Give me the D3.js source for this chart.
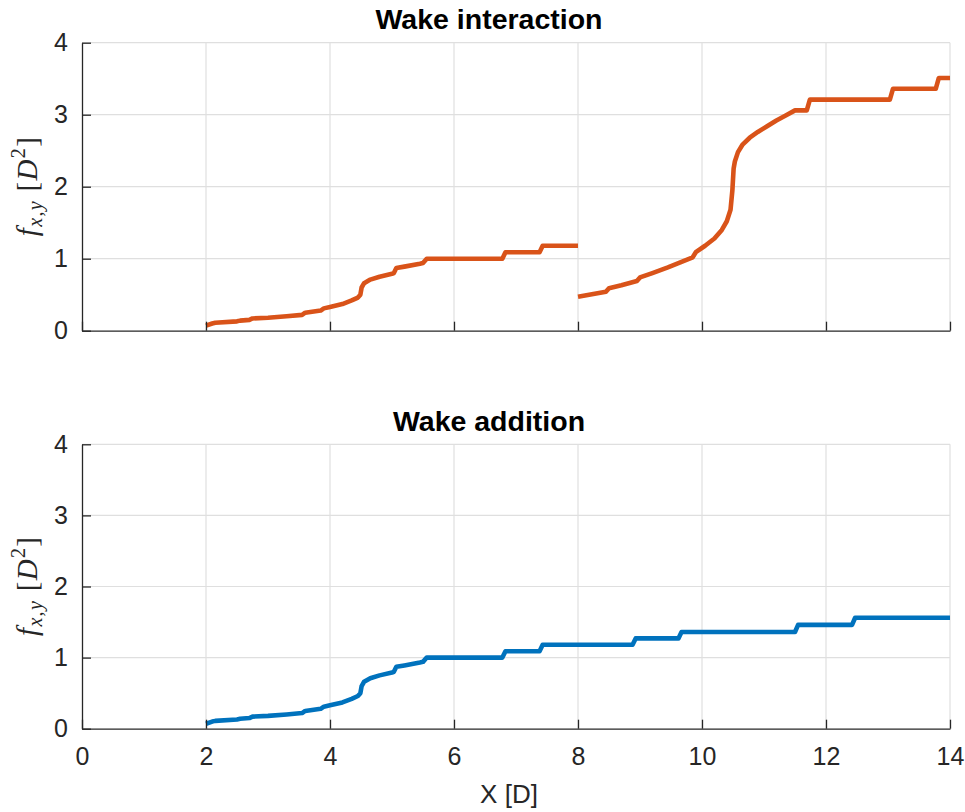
<!DOCTYPE html>
<html lang="en">
<head>
<meta charset="UTF-8">
<title>Wake interaction vs wake addition</title>
<style>
  body { margin: 0; background: #fff; }
  svg { display: block; }
  .tick text { font-family: 'Liberation Sans', Arial, Helvetica, sans-serif; font-size: 25px; fill: #262626; }
  .title { font-family: 'Liberation Sans', Arial, Helvetica, sans-serif; font-weight: bold; font-size: 28.5px; fill: #000; }
  .xlabel { font-family: 'Liberation Sans', Arial, Helvetica, sans-serif; font-size: 26px; fill: #262626; }
  .ylabel { font-family: 'Liberation Serif', 'DejaVu Serif', serif; font-size: 29px; fill: #262626; }
</style>
</head>
<body>
<svg id="chart" width="965" height="812"></svg>
<script src="https://d3js.org/d3.v7.min.js"></script>
<script>
// ticks
const xTicks = [0, 2, 4, 6, 8, 10, 12, 14];
const yTicks = [0, 1, 2, 3, 4];

// Wake interaction, first piece (2..8 D)
const interX1 = [2.00, 2.10, 2.15, 2.50, 2.55, 2.70, 2.75, 3.00, 3.30, 3.55, 3.60, 3.85, 3.90, 4.00, 4.20, 4.35, 4.45, 4.49, 4.51, 4.55, 4.65, 4.80, 5.00, 5.03, 5.07, 5.20, 5.45, 5.50, 5.56, 6.78, 6.83, 7.38, 7.43, 8.00];
const interY1 = [0.07, 0.10, 0.11, 0.13, 0.14, 0.15, 0.17, 0.18, 0.20, 0.22, 0.25, 0.28, 0.31, 0.33, 0.37, 0.42, 0.46, 0.50, 0.60, 0.66, 0.71, 0.75, 0.79, 0.80, 0.87, 0.89, 0.93, 0.94, 1.00, 1.00, 1.09, 1.09, 1.18, 1.18];

// Wake interaction, second piece (8..14 D)
const interX2 = [8.00, 8.45, 8.50, 8.70, 8.95, 9.00, 9.20, 9.45, 9.65, 9.85, 9.90, 10.05, 10.20, 10.32, 10.40, 10.46, 10.49, 10.51, 10.53, 10.58, 10.65, 10.77, 10.90, 11.05, 11.20, 11.35, 11.50, 11.69, 11.74, 13.03, 13.08, 13.77, 13.82, 14.00];
const interY2 = [0.47, 0.54, 0.59, 0.63, 0.69, 0.74, 0.80, 0.88, 0.95, 1.02, 1.09, 1.18, 1.28, 1.40, 1.52, 1.68, 1.95, 2.25, 2.35, 2.48, 2.58, 2.68, 2.76, 2.84, 2.92, 2.99, 3.06, 3.06, 3.21, 3.21, 3.36, 3.36, 3.51, 3.51];

// Wake addition
const addX = [2.00, 2.10, 2.15, 2.50, 2.55, 2.70, 2.75, 3.00, 3.30, 3.55, 3.60, 3.85, 3.90, 4.00, 4.20, 4.35, 4.45, 4.49, 4.51, 4.55, 4.65, 4.80, 5.00, 5.03, 5.07, 5.20, 5.45, 5.50, 5.56, 6.78, 6.83, 7.38, 7.43, 8.88, 8.93, 9.62, 9.67, 11.50, 11.55, 12.42, 12.47, 14.00];
const addY = [0.07, 0.10, 0.11, 0.13, 0.14, 0.15, 0.17, 0.18, 0.20, 0.22, 0.25, 0.28, 0.31, 0.33, 0.37, 0.42, 0.46, 0.50, 0.60, 0.66, 0.71, 0.75, 0.79, 0.80, 0.87, 0.89, 0.93, 0.94, 1.00, 1.00, 1.09, 1.09, 1.18, 1.18, 1.27, 1.27, 1.36, 1.36, 1.46, 1.46, 1.56, 1.56];

const orange = "#D95319";
const blue = "#0072BD";

const svg = d3.select("#chart");
const left = 82, right = 950;

const x = d3.scaleLinear().domain([0, 14]).range([left, right]);

function zip(xs, ys) { return xs.map((v, i) => [v, ys[i]]); }

function panel(top, bottom, title, titleY, series, showXLabels) {
  const y = d3.scaleLinear().domain([0, 4]).range([bottom, top]);
  const g = svg.append("g");

  // grid
  g.selectAll(".gx").data(xTicks.filter(t => t > 0)).enter().append("line")
    .attr("x1", d => x(d)).attr("x2", d => x(d))
    .attr("y1", top).attr("y2", bottom)
    .attr("stroke", "#dfdfdf").attr("stroke-width", 1.2);
  g.selectAll(".gy").data(yTicks.filter(t => t > 0)).enter().append("line")
    .attr("x1", left).attr("x2", right)
    .attr("y1", d => y(d)).attr("y2", d => y(d))
    .attr("stroke", "#dfdfdf").attr("stroke-width", 1.2);

  // lines
  const line = d3.line().x(d => x(d[0])).y(d => y(d[1]));
  series.forEach(s => {
    g.append("path")
      .attr("d", line(s.pts))
      .attr("fill", "none")
      .attr("stroke", s.color)
      .attr("stroke-width", 4.6)
      .attr("stroke-linejoin", "round");
  });

  // axes (ticks pointing inward, like matlab)
  const xa = d3.axisBottom(x).tickValues(xTicks).tickSizeInner(-9).tickSizeOuter(0).tickPadding(19)
    .tickFormat(showXLabels ? d3.format("d") : () => "");
  const gx = g.append("g").attr("transform", `translate(0,${bottom})`).call(xa);
  const ya = d3.axisLeft(y).tickValues(yTicks).tickSizeInner(-9).tickSizeOuter(0).tickPadding(14)
    .tickFormat(d3.format("d"));
  const gy = g.append("g").attr("transform", `translate(${left},0)`).call(ya);
  [gx, gy].forEach(a => {
    a.selectAll("path, line").attr("stroke", "#262626").attr("stroke-width", 1.3);
  });

  g.append("text").attr("class", "title")
    .attr("x", 489).attr("y", titleY)
    .attr("text-anchor", "middle").text(title);

  // y label  f_{x,y} [D^2]
  const cy = (top + bottom) / 2;
  const yl = g.append("text").attr("class", "ylabel")
    .attr("transform", `translate(37,${cy}) rotate(-90)`)
    .attr("text-anchor", "middle")
    .attr("textLength", 99).attr("lengthAdjust", "spacing");
  yl.append("tspan").attr("font-style", "italic").text("f");
  yl.append("tspan").attr("font-style", "italic").attr("font-size", "20px").attr("dy", 5).text("x,y");
  yl.append("tspan").attr("dy", -5).text(" [");
  yl.append("tspan").attr("font-style", "italic").text("D");
  yl.append("tspan").attr("font-size", "20px").attr("dy", -12).text("2");
  yl.append("tspan").attr("dy", 12).text("]");
}

panel(42.7, 330.7, "Wake interaction", 29,
  [{ pts: zip(interX1, interY1), color: orange }, { pts: zip(interX2, interY2), color: orange }], false);
panel(444.3, 728.7, "Wake addition", 431,
  [{ pts: zip(addX, addY), color: blue }], true);

svg.append("text").attr("class", "xlabel")
  .attr("x", 509).attr("y", 803).attr("text-anchor", "middle").text("X [D]");
</script>
</body>
</html>
